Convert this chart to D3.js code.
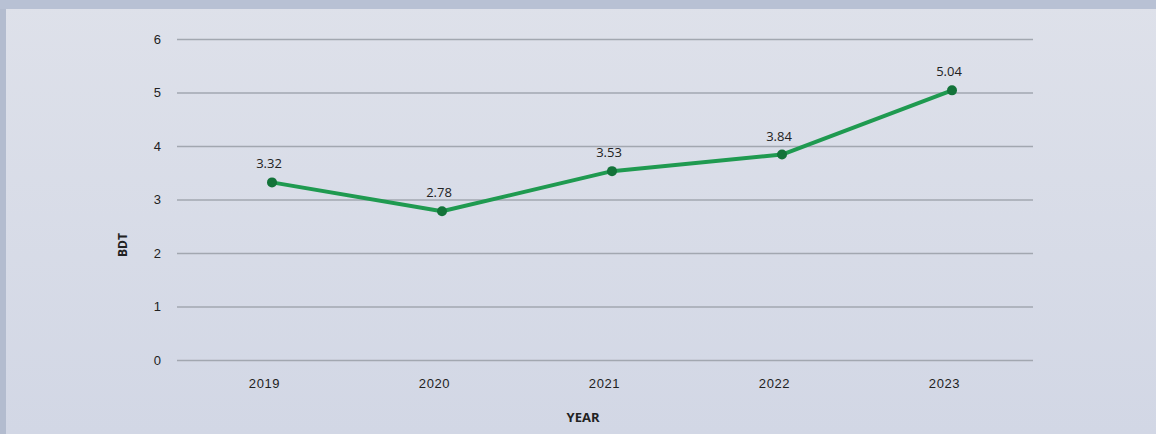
<!DOCTYPE html>
<html>
<head>
<meta charset="utf-8">
<script src="https://cdn.jsdelivr.net/npm/d3@7.9.0/dist/d3.min.js"></script>
<style>
  html, body { margin: 0; padding: 0; }
  body { width: 1156px; height: 434px; overflow: hidden; }
  svg { display: block; font-family: "Open Sans", "DejaVu Sans", sans-serif; }
</style>
</head>
<body>
<svg id="chart" width="1156" height="434"></svg>
<script>
const years = ['2019', '2020', '2021', '2022', '2023'];
const values = [3.32, 2.78, 3.53, 3.84, 5.04];
const yTicks = [0, 1, 2, 3, 4, 5, 6];

const svg = d3.select('#chart');

// background panel
const defs = svg.append('defs');
const grad = defs.append('linearGradient')
  .attr('id', 'bg')
  .attr('x1', 0).attr('y1', 0).attr('x2', 0).attr('y2', 1);
grad.append('stop').attr('offset', '0%').attr('stop-color', '#dee1ea');
grad.append('stop').attr('offset', '100%').attr('stop-color', '#d2d7e5');

svg.append('rect').attr('width', 1156).attr('height', 434).attr('fill', 'url(#bg)');
svg.append('rect').attr('width', 1156).attr('height', 9).attr('fill', '#b8c1d4');
svg.append('rect').attr('y', 9).attr('width', 6).attr('height', 425).attr('fill', '#b3bccf');

const left = 177, right = 1033;

const x = d3.scalePoint()
  .domain(years)
  .range([272, 952]);

const y = d3.scaleLinear()
  .domain([0, 6])
  .range([360, 39]);

// y axis + gridlines
const yAxis = svg.append('g')
  .attr('transform', `translate(${left},0)`)
  .call(d3.axisLeft(y).tickValues(yTicks).tickFormat(d3.format('d'))
    .tickSize(-(right - left)).tickPadding(16));

yAxis.select('.domain').remove();
yAxis.selectAll('.tick line')
  .attr('stroke', '#a2a7b0')
  .attr('stroke-width', 1.3);
yAxis.selectAll('.tick text')
  .attr('fill', '#222')
  .style('font-size', '13px');

// x axis labels
const xAxis = svg.append('g')
  .attr('transform', 'translate(0,371)')
  .call(d3.axisBottom(x).tickSize(0).tickPadding(8));

xAxis.select('.domain').remove();
xAxis.selectAll('.tick text')
  .attr('dx', -8)
  .attr('fill', '#222')
  .style('font-size', '13px')
  .style('letter-spacing', '0.6px');

// axis titles
svg.append('text')
  .attr('x', 583).attr('y', 422)
  .attr('text-anchor', 'middle')
  .attr('fill', '#222')
  .style('font-size', '13px')
  .style('font-weight', 'bold')
  .text('YEAR');

svg.append('text')
  .attr('transform', 'translate(127,245) rotate(-90)')
  .attr('text-anchor', 'middle')
  .attr('fill', '#222')
  .style('font-size', '12px')
  .style('font-weight', 'bold')
  .text('BDT');

// line
const data = years.map((yr, i) => ({ year: yr, value: values[i] }));

svg.append('path')
  .datum(data)
  .attr('fill', 'none')
  .attr('stroke', '#1f9a50')
  .attr('stroke-width', 4)
  .attr('stroke-linejoin', 'round')
  .attr('d', d3.line().x(d => x(d.year)).y(d => y(d.value)));

svg.selectAll('circle.pt')
  .data(data)
  .enter()
  .append('circle')
  .attr('class', 'pt')
  .attr('cx', d => x(d.year))
  .attr('cy', d => y(d.value))
  .attr('r', 5)
  .attr('fill', '#137339');

svg.selectAll('text.lbl')
  .data(data)
  .enter()
  .append('text')
  .attr('class', 'lbl')
  .attr('x', d => x(d.year) - 3)
  .attr('y', d => y(d.value) - 14)
  .attr('text-anchor', 'middle')
  .attr('fill', '#222')
  .style('font-size', '13px')
  .text(d => d.value.toFixed(2));
</script>
</body>
</html>
